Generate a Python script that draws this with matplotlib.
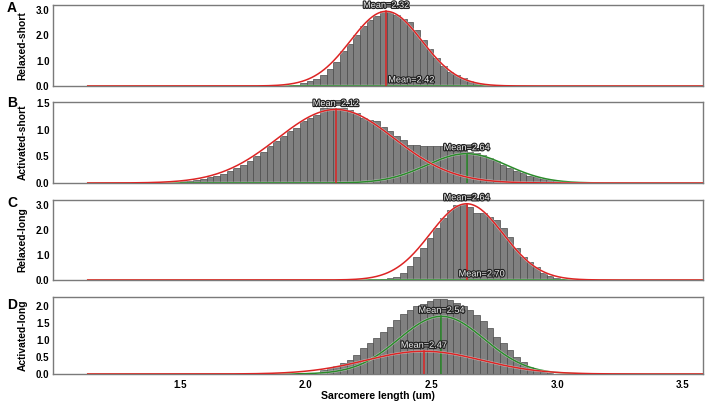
import numpy as np
import matplotlib
matplotlib.use("Agg")
import matplotlib.pyplot as plt
import matplotlib.patheffects as pe

plt.rcParams['font.family'] = ['Liberation Sans', 'DejaVu Sans']

# ---------------- data ----------------
panel_letters = ["A", "B", "C", "D"]
panel_names = ["Relaxed-short", "Activated-short", "Relaxed-long", "Activated-long"]

bin_width = 0.0265

# histogram (density) bar heights, with first bin left edge
a_start = 1.951
a_heights = [0.05, 0.10, 0.19, 0.29, 0.42, 0.68, 0.95, 1.37, 1.67, 2.03,
             2.37, 2.59, 2.76, 2.95, 2.92, 2.79, 2.66, 2.53, 2.20, 1.80,
             1.45, 1.10, 0.80, 0.55, 0.42, 0.30, 0.20, 0.13, 0.08, 0.04]

b_start = 1.500
b_heights = [0.03, 0.04, 0.06, 0.075, 0.11, 0.14, 0.17, 0.22, 0.28, 0.34,
             0.41, 0.50, 0.59, 0.69, 0.78, 0.875, 0.97, 1.03, 1.17, 1.22,
             1.28, 1.41, 1.41, 1.41, 1.41, 1.37, 1.31, 1.22,
             1.19, 1.16, 1.06, 0.97, 0.89, 0.81, 0.72, 0.72, 0.69, 0.69,
             0.69, 0.70, 0.72, 0.70, 0.66, 0.59, 0.56, 0.52, 0.47, 0.41,
             0.34, 0.28, 0.23, 0.19, 0.14, 0.11, 0.08, 0.05, 0.04]

c_start = 2.269
c_heights = [0.02, 0.04, 0.09, 0.14, 0.30, 0.58, 0.93, 1.29, 1.67, 2.09,
             2.49, 2.80, 3.00, 3.03, 2.93, 2.67, 2.67, 2.53, 2.40, 2.09,
             1.73, 1.29, 0.93, 0.73, 0.53, 0.27, 0.17, 0.09, 0.04]

d_start = 2.057
d_heights = [0.12, 0.18, 0.25, 0.31, 0.41, 0.56, 0.76, 0.90, 1.07, 1.25,
             1.40, 1.60, 1.77, 1.90, 2.00, 2.07, 2.15, 2.20, 2.20, 2.17,
             2.10, 2.00, 1.90, 1.73, 1.55, 1.35, 1.10, 0.90, 0.71, 0.51,
             0.36, 0.21, 0.11, 0.06, 0.03]

# fitted Gaussian components: (mean, sd, peak height)
red_means = [2.32, 2.12, 2.64, 2.47]
red_sds = [0.142, 0.232, 0.145, 0.23]
red_peaks = [2.95, 1.38, 3.05, 0.67]

green_means = [2.42, 2.64, 2.70, 2.54]
green_sds = [0.15, 0.16, 0.15, 0.17]
green_peaks = [0.004, 0.55, 0.004, 1.70]

y_max = [3.2, 1.52, 3.2, 2.27]
y_ticks = [[0, 1, 2, 3], [0, 0.5, 1.0, 1.5], [0, 1, 2, 3], [0, 0.5, 1.0, 1.5, 2.0]]
x_ticks = [1.5, 2.0, 2.5, 3.0, 3.5]

starts = [a_start, b_start, c_start, d_start]
heights_all = [a_heights, b_heights, c_heights, d_heights]

# ---------------- style ----------------
RED = '#dd2424'
GREEN = '#2a8a2a'
BAR = '#808080'
BAR_EDGE = '#4a4a4a'
FRAME = '#7a7a7a'

fig = plt.figure(figsize=(7.08, 4.03), dpi=100)
rects = [[0.0749, 0.7866, 0.918, 0.201],
         [0.0749, 0.5459, 0.918, 0.201],
         [0.0749, 0.3052, 0.918, 0.1985],
         [0.0749, 0.0720, 0.918, 0.191]]
letter_y = [8, 103, 203, 305]

xs = np.linspace(1.13, 3.62, 600)
halo = [pe.Stroke(linewidth=1.7, foreground='white', alpha=0.55), pe.Normal()]
txt_fx = [pe.withStroke(linewidth=1.7, foreground='#222222')]

for i in range(4):
    ax = fig.add_axes(rects[i])
    h = np.array(heights_all[i])
    edges = starts[i] + bin_width * np.arange(len(h))
    ax.bar(edges, h, width=bin_width, align='edge', color=BAR,
           edgecolor=BAR_EDGE, linewidth=0.5, zorder=1)

    for mean, sd, pk, col in [(green_means[i], green_sds[i], green_peaks[i], GREEN),
                              (red_means[i], red_sds[i], red_peaks[i], RED)]:
        ys = pk * np.exp(-0.5 * ((xs - mean) / sd) ** 2)
        ax.plot(xs, ys, color=col, lw=1.1, zorder=3, path_effects=halo,
                solid_capstyle='butt')
        ax.plot([mean, mean], [0, pk], color=col, lw=1.1, zorder=3)
        ax.annotate(f"Mean={mean:.2f}", xy=(mean, pk), xytext=(0, 4.3),
                    textcoords='offset points', ha='center', va='center',
                    fontsize=6.6, color='#eeeeee', path_effects=txt_fx,
                    zorder=5, annotation_clip=False)

    ax.set_xlim(0.995, 3.58)
    ax.set_ylim(0, y_max[i])
    ax.set_yticks(y_ticks[i])
    ax.set_yticklabels([f"{v:.1f}" for v in y_ticks[i]], fontsize=7,
                       fontweight='bold')
    ax.set_xticks(x_ticks)
    if i == 3:
        ax.set_xticklabels([f"{v:.1f}" for v in x_ticks], fontsize=7,
                           fontweight='bold')
        ax.set_xlabel("Sarcomere length (um)", fontsize=7.6, fontweight='bold',
                      labelpad=0.5)
    else:
        ax.set_xticklabels([])
    ax.tick_params(length=0, pad=2.5)
    ax.tick_params(axis='x', pad=4.2)
    ax.set_ylabel(panel_names[i], fontsize=7.4, fontweight='bold')
    ax.yaxis.set_label_coords(-0.039, 0.5)
    for s in ax.spines.values():
        s.set_color(FRAME)
        s.set_linewidth(1.0)
    fig.text(0.010, 1 - letter_y[i] / 403, panel_letters[i], fontsize=10,
             fontweight='bold', ha='left', va='center')

fig.savefig("out.png", dpi=100)
